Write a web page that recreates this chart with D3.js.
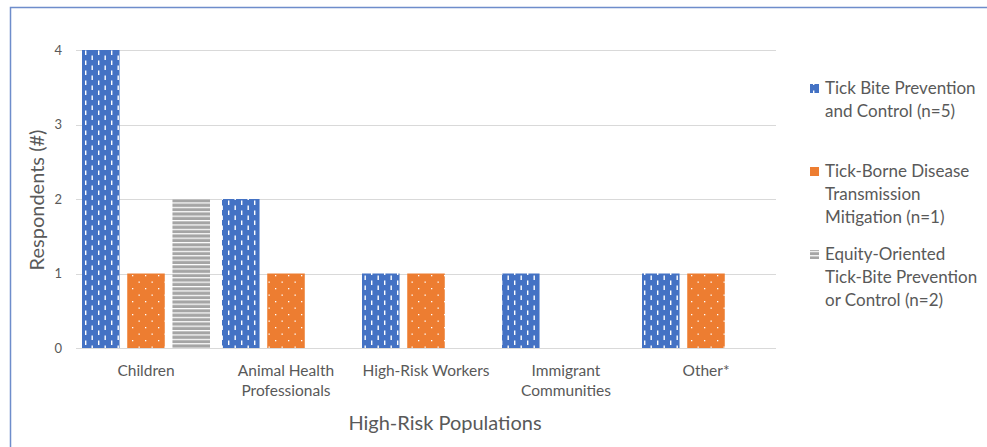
<!DOCTYPE html>
<html>
<head>
<meta charset="utf-8">
<script src="https://cdn.jsdelivr.net/npm/d3@7"></script>
<style>
  html, body { margin: 0; padding: 0; background: #fff; }
  svg { display: block; }
  text { font-family: Lato, "Open Sans", sans-serif; }
</style>
</head>
<body>
<svg id="chart" width="987" height="447"></svg>
<script>
const categories = ["Children", "Animal Health\nProfessionals", "High-Risk Workers", "Immigrant\nCommunities", "Other*"];
const seriesNames = ["Tick Bite Prevention\nand Control (n=5)", "Tick-Borne Disease\nTransmission\nMitigation (n=1)", "Equity-Oriented\nTick-Bite Prevention\nor Control (n=2)"];
const tickBite = [4, 2, 1, 1, 1];
const transmission = [1, 1, 1, 0, 1];
const equity = [2, 0, 0, 0, 0];
const yTicks = [0, 1, 2, 3, 4];

const seriesValues = [tickBite, transmission, equity];
const patternIds = ["pBlue", "pOrange", "pGray"];

const svg = d3.select("#chart");
const defs = svg.append("defs");

// Blue with white vertical dashes
const pb = defs.append("pattern").attr("id", "pBlue").attr("patternUnits", "userSpaceOnUse")
  .attr("width", 13).attr("height", 10).attr("x", 82).attr("y", 0);
pb.append("rect").attr("width", 13).attr("height", 10).attr("fill", "#4472C4");
pb.append("rect").attr("x", 3).attr("y", 0.5).attr("width", 1.4).attr("height", 4.5).attr("fill", "#fff");
pb.append("rect").attr("x", 9.5).attr("y", 5.5).attr("width", 1.4).attr("height", 4.5).attr("fill", "#fff");

// Orange with white dots
const po = defs.append("pattern").attr("id", "pOrange").attr("patternUnits", "userSpaceOnUse")
  .attr("width", 13).attr("height", 13).attr("x", 0).attr("y", 0);
po.append("rect").attr("width", 13).attr("height", 13).attr("fill", "#ED7D31");
po.append("rect").attr("x", 2).attr("y", 2).attr("width", 1.3).attr("height", 1.3).attr("fill", "#fff");
po.append("rect").attr("x", 8.5).attr("y", 8.5).attr("width", 1.3).attr("height", 1.3).attr("fill", "#fff");

// Gray with white horizontal lines
const pg = defs.append("pattern").attr("id", "pGray").attr("patternUnits", "userSpaceOnUse")
  .attr("width", 8).attr("height", 4.4).attr("x", 0).attr("y", 0);
pg.append("rect").attr("width", 8).attr("height", 4.4).attr("fill", "#A5A5A5");
pg.append("rect").attr("x", 0).attr("y", 0).attr("width", 8).attr("height", 1.2).attr("fill", "#fff");

// outer border (cropped on right/bottom)
svg.append("path").attr("d", "M10.5,460 L10.5,7.5 L1000,7.5")
  .attr("fill", "none").attr("stroke", "#6E8DCB").attr("stroke-width", 1.5);

const x = d3.scaleBand().domain(categories).range([76, 776]).paddingInner(0).paddingOuter(0);
const xs = d3.scaleBand().domain([0, 1, 2]).range([6, 134]).paddingInner(0.17).paddingOuter(0);
const y = d3.scaleLinear().domain([0, 4]).range([348, 50]);

// gridlines
svg.append("g").selectAll("line").data(yTicks).join("line")
  .attr("x1", 76).attr("x2", 776)
  .attr("y1", d => Math.round(y(d)) + 0.5).attr("y2", d => Math.round(y(d)) + 0.5)
  .attr("stroke", "#D9D9D9").attr("stroke-width", 1);

// y tick labels
svg.append("g").selectAll("text").data(yTicks).join("text")
  .attr("x", 62).attr("y", d => y(d)).attr("dy", "0.35em")
  .attr("text-anchor", "end").attr("font-size", 13).attr("fill", "#595959")
  .text(d => d);

// bars
categories.forEach((c, ci) => {
  seriesValues.forEach((vals, si) => {
    const v = vals[ci];
    if (v <= 0) return;
    svg.append("rect")
      .attr("x", x(c) + xs(si))
      .attr("y", y(v))
      .attr("width", xs.bandwidth())
      .attr("height", y(0) - y(v))
      .attr("fill", `url(#${patternIds[si]})`);
  });
});

// x category labels
const xl = svg.append("g");
categories.forEach(c => {
  const t = xl.append("text").attr("x", x(c) + x.bandwidth() / 2).attr("y", 376)
    .attr("text-anchor", "middle").attr("font-size", 15.5).attr("fill", "#595959");
  c.split("\n").forEach((line, i) => {
    t.append("tspan").attr("x", x(c) + x.bandwidth() / 2).attr("dy", i === 0 ? 0 : 20).text(line);
  });
});

// axis titles
svg.append("text").attr("x", 445).attr("y", 430).attr("text-anchor", "middle")
  .attr("font-size", 20).attr("fill", "#595959").text("High-Risk Populations");
svg.append("text").attr("transform", "translate(44,200) rotate(-90)").attr("text-anchor", "middle")
  .attr("font-size", 20).attr("fill", "#595959").text("Respondents (#)");

// legend
const legendTop = [94, 177, 260];
seriesNames.forEach((name, i) => {
  const g = svg.append("g");
  g.append("rect").attr("x", 810).attr("y", legendTop[i] - 10).attr("width", 9).attr("height", 9)
    .attr("fill", `url(#${patternIds[i]})`);
  const t = g.append("text").attr("x", 825).attr("y", legendTop[i])
    .attr("font-size", 17).attr("fill", "#595959");
  name.split("\n").forEach((line, j) => {
    t.append("tspan").attr("x", 825).attr("dy", j === 0 ? 0 : 23).text(line);
  });
});
</script>
</body>
</html>
